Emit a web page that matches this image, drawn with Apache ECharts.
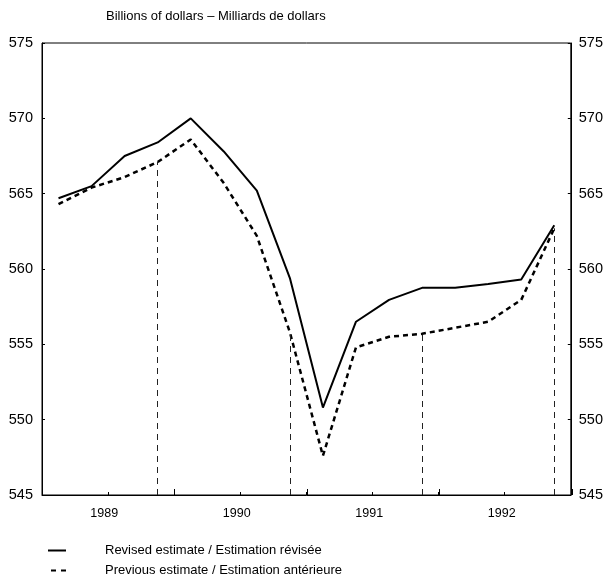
<!DOCTYPE html>
<html>
<head>
<meta charset="utf-8">
<script src="https://cdn.jsdelivr.net/npm/echarts@6/dist/echarts.min.js"></script>
<style>html,body{margin:0;padding:0;background:#fff}#c{width:606px;height:577px}</style>
</head>
<body>
<div id="c"></div>
<script>
const quarters = ['1989Q1','1989Q2','1989Q3','1989Q4','1990Q1','1990Q2','1990Q3','1990Q4','1991Q1','1991Q2','1991Q3','1991Q4','1992Q1','1992Q2','1992Q3','1992Q4'];
const years = ['1989','1990','1991','1992'];
const revised = [564.7, 565.5, 567.5, 568.4, 570.0, 567.8, 565.2, 559.4, 550.8, 556.5, 557.95, 558.75, 558.75, 559.0, 559.3, 562.9];
const previous = [564.3, 565.4, 566.1, 567.1, 568.6, 565.7, 562.2, 555.8, 547.6, 554.8, 555.5, 555.7, 556.1, 556.5, 557.95, 562.7];
const dropQuarters = ['1989Q4','1990Q4','1991Q4','1992Q4'];
const yTicks = { min: 545, max: 575, interval: 5 };
const titleText = 'Billions of dollars \u2013 Milliards de dollars';
const seriesNames = ['Revised estimate / Estimation r\u00e9vis\u00e9e', 'Previous estimate / Estimation ant\u00e9rieure'];

const font = 'Arial, "Liberation Sans", sans-serif';
const gridPos = { left: 42, right: 34, top: 43, bottom: 82 };

const dropLines = dropQuarters.map(q => {
  const v = previous[quarters.indexOf(q)];
  return [{ coord: [q, yTicks.min] }, { coord: [q, v] }];
});

const chart = echarts.init(document.getElementById('c'), null, { renderer: 'canvas' });
chart.setOption({
  animation: false,
  backgroundColor: '#fff',
  title: {
    text: titleText, left: 106, top: 10, padding: 0,
    textStyle: { fontFamily: font, fontSize: 13, fontWeight: 'normal', color: '#000' }
  },
  legend: [
    {
      left: 48, top: 544, padding: 0,
      itemWidth: 18, itemHeight: 2,
      icon: 'path://M0,0h18v2h-18z',
      itemStyle: { color: '#000' },
      textStyle: { fontFamily: font, fontSize: 13, color: '#000', padding: [0, 0, 0, 34] },
      data: [seriesNames[0]]
    },
    {
      left: 51, top: 564, padding: 0,
      itemWidth: 15, itemHeight: 2,
      icon: 'path://M0,0h5v2h-5z M10,0h5v2h-5z',
      itemStyle: { color: '#000' },
      textStyle: { fontFamily: font, fontSize: 13, color: '#000', padding: [0, 0, 0, 34] },
      data: [seriesNames[1]]
    }
  ],
  grid: [
    Object.assign({ show: true, borderColor: '#000', borderWidth: 1 }, gridPos),
    Object.assign({ show: false }, gridPos)
  ],
  xAxis: [
    {
      type: 'category', gridIndex: 0, data: quarters, boundaryGap: true,
      axisLine: { lineStyle: { color: '#000', width: 1 } },
      axisTick: { show: true, inside: true, length: 3, lineStyle: { color: '#000' } },
      axisLabel: { show: false },
      splitLine: { show: false }
    },
    {
      type: 'category', gridIndex: 1, data: years, boundaryGap: true,
      axisLine: { show: false },
      axisTick: { show: true, inside: true, length: 6, lineStyle: { color: '#000' } },
      axisLabel: { show: true, margin: 12, padding: [0, 8, 0, 0], fontFamily: font, fontSize: 12.5, color: '#000' },
      splitLine: { show: false }
    }
  ],
  yAxis: [
    {
      type: 'value', gridIndex: 0, position: 'left',
      min: yTicks.min, max: yTicks.max, interval: yTicks.interval,
      axisLine: { show: true, lineStyle: { color: '#000' } },
      axisTick: { show: true, inside: true, length: 3, lineStyle: { color: '#000' } },
      axisLabel: { margin: 9, fontFamily: font, fontSize: 14.5, color: '#000' },
      splitLine: { show: false }
    },
    {
      type: 'value', gridIndex: 0, position: 'right',
      min: yTicks.min, max: yTicks.max, interval: yTicks.interval,
      axisLine: { show: true, lineStyle: { color: '#000' } },
      axisTick: { show: true, inside: true, length: 3, lineStyle: { color: '#000' } },
      axisLabel: { margin: 8, fontFamily: font, fontSize: 14.5, color: '#000' },
      splitLine: { show: false }
    },
    {
      type: 'value', gridIndex: 1, show: false,
      min: yTicks.min, max: yTicks.max
    }
  ],
  series: [
    {
      name: seriesNames[0], type: 'line', xAxisIndex: 0, yAxisIndex: 0,
      data: revised, symbol: 'none', smooth: false,
      lineStyle: { color: '#000', width: 2 },
      itemStyle: { color: '#000' }
    },
    {
      name: seriesNames[1], type: 'line', xAxisIndex: 0, yAxisIndex: 0,
      data: previous, symbol: 'none', smooth: false,
      lineStyle: { color: '#000', width: 2.5, type: [5, 4] },
      itemStyle: { color: '#000' },
      markLine: {
        silent: true, symbol: ['none', 'none'],
        label: { show: false },
        lineStyle: { color: '#222', width: 1, type: [6, 5] },
        emphasis: { disabled: true },
        data: dropLines
      }
    }
  ]
});
</script>
</body>
</html>
